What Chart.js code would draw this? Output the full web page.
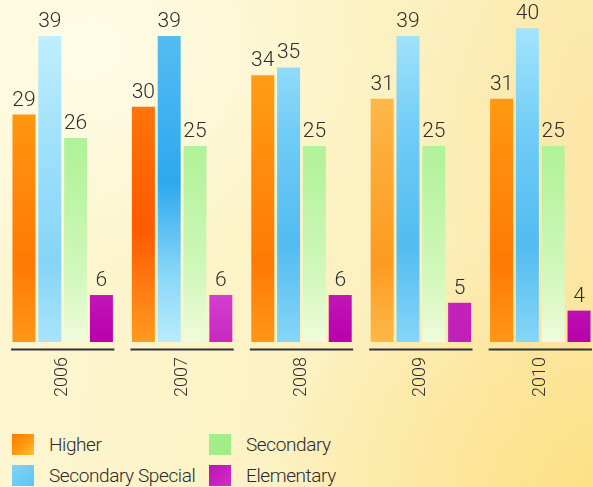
<!DOCTYPE html>
<html>
<head>
<meta charset="utf-8">
<script src="https://cdn.jsdelivr.net/npm/chart.js@4"></script>
<style>
	html, body {
		margin: 0;
		padding: 0;
		width: 593px;
		height: 487px;
		overflow: hidden;
	}
	body {
		position: relative;
		background:
			radial-gradient(ellipse 280px 220px at 90px 50px, rgba(255, 252, 232, 0.95), rgba(255, 252, 232, 0) 100%),
			radial-gradient(ellipse 330px 260px at 600px 487px, rgba(252, 224, 130, 0.95), rgba(252, 224, 130, 0) 100%),
			radial-gradient(ellipse 200px 320px at 610px 170px, rgba(251, 228, 160, 0.8), rgba(251, 228, 160, 0) 100%),
			linear-gradient(100deg, #fdf7d4 0%, #fcf2c4 50%, #fceab0 100%);
		font-family: 'Roboto', 'DejaVu Sans', sans-serif;
	}
	#wrap {
		position: absolute;
		left: 0;
		top: 0;
		width: 600px;
		height: 410px;
	}
	#legend {
		position: absolute;
		left: 12px;
		top: 433px;
		display: grid;
		grid-template-columns: 197px 200px;
		grid-auto-flow: column;
		grid-template-rows: 31px 31px;
		color: #2b2b2b;
		font-size: 19px;
		letter-spacing: -0.4px;
		font-weight: 300;
		white-space: nowrap;
	}
	#legend .item {
		display: flex;
		align-items: center;
		height: 22px;
	}
	#legend .swatch {
		flex: none;
		width: 22px;
		height: 21px;
		margin-right: 15px;
	}
</style>
</head>
<body>
<div id="wrap"><canvas id="chart" width="600" height="410"></canvas></div>
<div id="legend"></div>
<script>
(function() {
	'use strict';

	// Data.
	const years = ['2006', '2007', '2008', '2009', '2010'];
	const seriesNames = ['Higher', 'Secondary Special', 'Secondary', 'Elementary'];
	const higher = [29, 30, 34, 31, 31];
	const secondarySpecial = [39, 39, 35, 39, 40];
	const secondary = [26, 25, 25, 25, 25];
	const elementary = [6, 6, 6, 5, 4];

	// Watercolour-ish gradient stops, top to bottom.
	const palettes = [
		[['#ffa818', 0], ['#ff8c0c', 0.45], ['#ff7a04', 0.75], ['#ff9618', 1]],
		[['#a8e6fc', 0], ['#70ccf6', 0.35], ['#52bcf0', 0.7], ['#86d6f8', 1]],
		[['#a4ef8c', 0], ['#b4f39c', 0.45], ['#d2f8bc', 0.8], ['#f0fbdc', 1]],
		[['#c818bc', 0], ['#bc08b4', 0.5], ['#c420b8', 0.8], ['#b800ac', 1]]
	];
	// A few bars in the reference are painted in a different wash.
	const variants = {
		'0-1': [['#ff8a10', 0], ['#ff6a06', 0.4], ['#ff5a00', 0.65], ['#ff9a20', 1]],
		'0-3': [['#fdc866', 0], ['#fcae3a', 0.4], ['#fd9a20', 0.75], ['#fcb848', 1]],
		'1-0': [['#c4f0fd', 0], ['#9ee0fb', 0.4], ['#86d4f8', 0.75], ['#a8e4fb', 1]],
		'1-1': [['#58bff2', 0], ['#2ea8ee', 0.5], ['#8cd8f8', 0.8], ['#b8ecfc', 1]],
		'3-1': [['#f088ee', 0], ['#e464e0', 0.5], ['#d848d4', 0.8], ['#c828c0', 1]],
		'3-3': [['#d840d0', 0], ['#cc28c4', 0.5], ['#c020b8', 1]]
	};
	const swatchCss = [
		'linear-gradient(135deg, #ff7a00, #ff9a10 55%, #ffc040)',
		'linear-gradient(135deg, #7fd4f8, #5cc4f4)',
		'linear-gradient(135deg, #a4ef8c, #a0ec84)',
		'linear-gradient(135deg, #c010b8, #d030c8)'
	];

	const catPct = 0.865;

	function barFill(index) {
		return function(ctx) {
			const area = ctx.chart.chartArea;
			const stops = variants[index + '-' + ctx.dataIndex] || palettes[index];
			if (!area) {
				return stops[1][0];
			}
			const g = ctx.chart.ctx.createLinearGradient(0, area.top + 20, 0, area.bottom);
			stops.forEach(function(s) {
				g.addColorStop(s[1], s[0]);
			});
			return g;
		};
	}

	// Numbers above each bar.
	const valueLabels = {
		id: 'valueLabels',
		afterDatasetsDraw: function(chart) {
			const c = chart.ctx;
			c.save();
			c.fillStyle = '#2e2e2e';
			c.font = "300 21px 'Roboto', sans-serif";
			c.textAlign = 'center';
			c.textBaseline = 'alphabetic';
			chart.data.datasets.forEach(function(ds, i) {
				chart.getDatasetMeta(i).data.forEach(function(bar, j) {
					c.fillText(String(ds.data[j]), bar.x, bar.y - 9);
				});
			});
			c.restore();
		}
	};

	// Short rule under each year group.
	const groupRules = {
		id: 'groupRules',
		afterDraw: function(chart) {
			const x = chart.scales.x;
			const c = chart.ctx;
			const half = (x.width / years.length) * catPct / 2;
			const y = chart.chartArea.bottom + 7.5;
			c.save();
			c.strokeStyle = '#333333';
			c.lineWidth = 2;
			years.forEach(function(yr, i) {
				const cx = x.getPixelForValue(i);
				c.beginPath();
				c.moveTo(cx - half, y);
				c.lineTo(cx + half, y);
				c.stroke();
			});
			c.restore();
		}
	};

	const seriesData = [higher, secondarySpecial, secondary, elementary];

	const chart = new Chart(document.getElementById('chart'), {
		type: 'bar',
		data: {
			labels: years,
			datasets: seriesNames.map(function(name, i) {
				return {
					label: name,
					data: seriesData[i],
					backgroundColor: barFill(i),
					borderWidth: 0,
					categoryPercentage: catPct,
					barPercentage: 0.89
				};
			})
		},
		options: {
			responsive: false,
			animation: false,
			layout: {
				padding: { left: 3, right: 0, top: 0, bottom: 0 }
			},
			plugins: {
				legend: { display: false },
				tooltip: { enabled: false }
			},
			scales: {
				x: {
					grid: { display: false, drawTicks: false },
					border: { display: false },
					ticks: {
						minRotation: 90,
						maxRotation: 90,
						padding: 15,
						color: '#2e2e2e',
						font: { size: 18, weight: '300', family: "'Roboto', sans-serif" }
					},
					afterFit: function(scale) {
						scale.height = 68;
					}
				},
				y: {
					display: false,
					min: 0,
					max: 43.6
				}
			}
		},
		plugins: [valueLabels, groupRules]
	});

	// Two-column legend built from the datasets.
	const legend = document.getElementById('legend');
	chart.data.datasets.forEach(function(ds, i) {
		const item = document.createElement('div');
		item.className = 'item';
		const sw = document.createElement('span');
		sw.className = 'swatch';
		sw.style.background = swatchCss[i];
		const txt = document.createElement('span');
		txt.textContent = ds.label;
		item.appendChild(sw);
		item.appendChild(txt);
		legend.appendChild(item);
	});
})();
</script>
</body>
</html>
